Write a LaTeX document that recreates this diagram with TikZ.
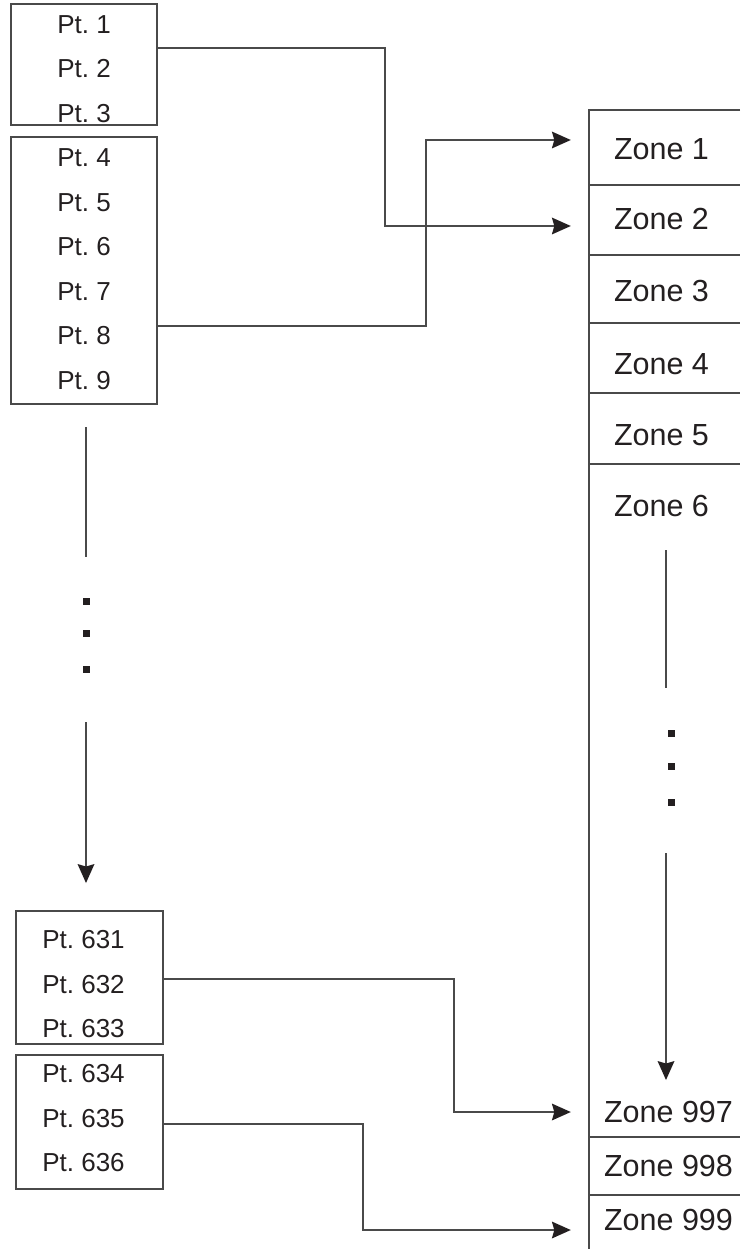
\documentclass[tikz,border=0pt]{standalone}
\usepackage{fontspec}
\setmainfont{Liberation Sans}
\usetikzlibrary{arrows.meta}
\definecolor{ln}{HTML}{4A4A4A}
\definecolor{tx}{HTML}{231F20}
\frenchspacing
\begin{document}
\begin{tikzpicture}[x=1pt,y=-1pt,
  ptbox/.style={draw=ln,line width=1.5pt,inner sep=0pt,minimum width=#1},
  cell/.style={draw=none,inner sep=0pt,minimum width=151pt},
  pt/.style={anchor=base,text=tx,inner sep=0pt,font=\fontsize{26}{30}\selectfont},
  zl/.style={anchor=base,text=tx,inner sep=0pt,font=\fontsize{30.5}{36}\selectfont},
  tip/.tip={Stealth[length=19pt,width=17pt,inset=2.5pt,line width=0pt,fill=tx,color=tx]},
  conn/.style={draw=ln,line width=1.5pt,-tip},
  plain/.style={draw=ln,line width=1.5pt},
  dotm/.style={fill=tx,inner sep=0pt,minimum size=7pt}]
\useasboundingbox (0,0) rectangle (740,1249);
% point boxes
\node[ptbox=146pt,minimum height=121pt] (b1) at (84,64.5) {};
\node[ptbox=146pt,minimum height=267pt] (b2) at (84,270.5) {};
\node[ptbox=147pt,minimum height=133pt] (b3) at (89.5,977.5) {};
\node[ptbox=147pt,minimum height=134pt] (b4) at (89.5,1122) {};
\foreach \k/\t in {1/Pt. 1,2/Pt. 2,3/Pt. 3,4/Pt. 4,5/Pt. 5,6/Pt. 6,7/Pt. 7,8/Pt. 8,9/Pt. 9}
  \node[pt] (p\k) at (84,{33.3+44.5*(\k-1)}) {\t};
\foreach \k/\t in {1/Pt. 631,2/Pt. 632,3/Pt. 633,4/Pt. 634,5/Pt. 635,6/Pt. 636}
  \node[pt] (q\k) at (83.5,{948.3+44.7*(\k-1)}) {\t};
% zone cells
\node[cell,minimum height=75pt] (zc1) at (664.5,147.5) {};
\node[cell,minimum height=70pt] (zc2) at (664.5,220) {};
\node[cell,minimum height=68pt] (zc3) at (664.5,289) {};
\node[cell,minimum height=70pt] (zc4) at (664.5,358) {};
\node[cell,minimum height=71pt] (zc5) at (664.5,428.5) {};
\node[cell,minimum height=50pt] (zc997) at (664.5,1112) {};
\node[cell,minimum height=58pt] (zc998) at (664.5,1166) {};
\node[cell,minimum height=54pt] (zc999) at (664.5,1222) {};
\draw[plain] (zc1.north east) -- (zc1.north west) -- (zc999.south west);
\foreach \c in {zc1,zc2,zc3,zc4,zc5,zc997,zc998}
  \draw[plain] (\c.south west) -- (\c.south east);
% zone labels
\node[zl] (l1) at (661.5,160) {Zone 1};
\node[zl] (l2) at (661.5,230) {Zone 2};
\node[zl] (l3) at (661.5,301.7) {Zone 3};
\node[zl] (l4) at (661.5,374) {Zone 4};
\node[zl] (l5) at (661.5,445) {Zone 5};
\node[zl] (l6) at (661.5,516.5) {Zone 6};
\node[zl] (l997) at (668.5,1122.7) {Zone 997};
\node[zl] (l998) at (668.5,1176.7) {Zone 998};
\node[zl] (l999) at (668.5,1230) {Zone 999};
% connectors
\draw[conn] ([yshift=16.5pt]b1.east) -- ++(227,0) |- ([xshift=-18pt,yshift=-6pt]zc2.west);
\draw[conn] ([yshift=-55.5pt]b2.east) -- ++(268,0) |- ([xshift=-18pt,yshift=7.5pt]zc1.west);
\draw[conn] ([yshift=-1.5pt]b3.east) -- ++(290,0) |- ([xshift=-18pt]zc997.west);
\draw[conn] ([yshift=-2pt]b4.east) -- ++(199,0) |- ([xshift=-18pt,yshift=-8pt]zc999.west);
% left continuation
\coordinate (la) at (86,427);
\coordinate (lb) at (86,557);
\coordinate (lc) at (86,722);
\coordinate (ld) at (86,883);
\draw[plain] (la) -- (lb);
\node[dotm] (ld1) at (86.5,601) {};
\node[dotm] (ld2) at (86.5,633) {};
\node[dotm] (ld3) at (86.5,669) {};
\draw[conn] (lc) -- (ld);
% right continuation
\coordinate (ra) at (666,550);
\coordinate (rb) at (666,688);
\coordinate (rc) at (666,853);
\coordinate (rd) at (666,1080);
\draw[plain] (ra) -- (rb);
\node[dotm] (rd1) at (671,733) {};
\node[dotm] (rd2) at (671,766) {};
\node[dotm] (rd3) at (671,802) {};
\draw[conn] (rc) -- (rd);
\end{tikzpicture}
\end{document}
